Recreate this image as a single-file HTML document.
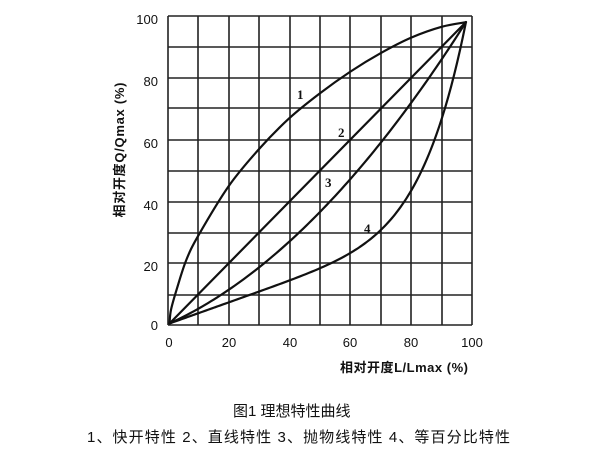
<!DOCTYPE html>
<html><head><meta charset="utf-8"><style>
html,body{margin:0;padding:0;background:#fff;width:600px;height:450px;overflow:hidden}
</style></head><body>
<svg width="600" height="450" viewBox="0 0 600 450" xmlns="http://www.w3.org/2000/svg" font-family="'Liberation Sans','Noto Sans CJK SC',sans-serif">
<g stroke="#222" stroke-width="1.6" fill="none">
<path d="M168 16V325M198 16V325M229 16V325M259 16V325M290 16V325M320 16V325M350 16V325M381 16V325M411 16V325M442 16V325M472 16V325"/>
<path d="M168 16H472M168 47H472M168 78H472M168 108H472M168 140H472M168 171H472M168 202H472M168 233H472M168 263H472M168 295H472M168 325H472"/>
</g>
<g id="curves" stroke="#111" stroke-width="2.2" fill="none" stroke-linejoin="round" stroke-linecap="round">
<path d="M170 323L466 22"/>
</g>
<g font-family="'Liberation Serif',serif" font-weight="bold" font-size="13" fill="#111">
<text x="297" y="99">1</text><text x="338" y="137">2</text><text x="325" y="187">3</text><text x="364" y="233">4</text>
</g>
<g font-size="13" fill="#111" text-anchor="end">
<text x="158" y="24">100</text><text x="158" y="86">80</text><text x="158" y="148">60</text><text x="158" y="210">40</text><text x="158" y="271">20</text><text x="158" y="330">0</text>
</g>
<g font-size="13" fill="#111" text-anchor="middle">
<text x="169" y="347">0</text><text x="229" y="347">20</text><text x="290" y="347">40</text><text x="350" y="347">60</text><text x="411" y="347">80</text><text x="472" y="347">100</text>
</g>
<text x="340" y="372" font-size="13" font-weight="bold" fill="#111" textLength="128">相对开度L/Lmax (%)</text>
<text transform="translate(124,150) rotate(-90)" font-size="13" font-weight="bold" fill="#111" text-anchor="middle" textLength="135">相对开度Q/Qmax (%)</text>
<text x="233" y="416" font-size="15" fill="#111">图1  理想特性曲线</text>
<text x="87" y="442" font-size="15" fill="#111" textLength="423">1、快开特性  2、直线特性  3、抛物线特性  4、等百分比特性</text>
</svg>
<script>
(function(){
var X=function(x){return 168+x*3.04},Y=function(y){return 325-y*3.09};
function gen(f){var a=[];for(var i=0;i<=100;i++){var t=i/100;a.push([0.5+97.5*t,0.5+97.5*f(t)]);}return a;}
var sets=[
[[0.5,0.5],[1,5],[3,12],[6,21],[10,29],[20,45],[30,57],[40,67],[50,75],[60,82],[70,88],[80,93],[90,96.5],[98,98]],
gen(function(t){return 0.45*t+0.55*t*t}),
gen(function(t){return 0.35*t+0.65*Math.pow(t,7)})];
var g=document.getElementById('curves');
sets.forEach(function(s){
 var p=s.map(function(a){return [X(a[0]),Y(a[1])]});
 var d='M'+p[0][0]+' '+p[0][1];
 for(var i=0;i<p.length-1;i++){
  var p0=p[i-1]||p[i],p1=p[i],p2=p[i+1],p3=p[i+2]||p2;
  var c1=[p1[0]+(p2[0]-p0[0])/6,p1[1]+(p2[1]-p0[1])/6];
  var c2=[p2[0]-(p3[0]-p1[0])/6,p2[1]-(p3[1]-p1[1])/6];
  d+='C'+c1[0]+' '+c1[1]+' '+c2[0]+' '+c2[1]+' '+p2[0]+' '+p2[1];
 }
 var e=document.createElementNS('http://www.w3.org/2000/svg','path');
 e.setAttribute('d',d);g.appendChild(e);
});
})();
</script>
</body></html>
